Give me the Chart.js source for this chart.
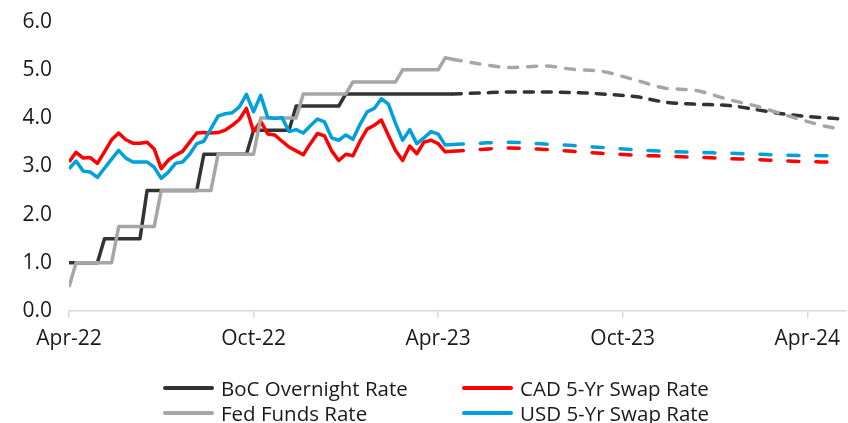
<!DOCTYPE html>
<html>
<head>
<meta charset="utf-8">
<script src="https://cdn.jsdelivr.net/npm/chart.js@4.4.1/dist/chart.umd.min.js"></script>
<style>
  body { margin: 0; background: #fff; }
  #wrap { position: relative; width: 848px; height: 423px; }
  #legend {
    position: absolute; left: 163px; top: 375px;
    display: grid; grid-template-columns: 299px 299px;
    font: 20.5px "Open Sans", sans-serif; color: #1a1a1a;
  }
  .item { display: flex; align-items: center; height: 25px; white-space: nowrap; }
  .swatch { width: 51px; height: 4px; border-radius: 2px; margin-right: 7px; }
</style>
</head>
<body>
<div id="wrap">
  <canvas id="myChart" width="848" height="423"></canvas>
  <div id="legend"></div>
</div>
<script>
// x is weeks since late Apr-22, ticks every 26 weeks
const tickWeeks = [0, 26, 52, 78, 104];
const tickLabels = ['Apr-22', 'Oct-22', 'Apr-23', 'Oct-23', 'Apr-24'];

// weekly history, weeks 0..54
const bocHist = [1.0, 1.0, 1.0, 1.0, 1.0,
  1.5, 1.5, 1.5, 1.5, 1.5, 1.5,
  2.5, 2.5, 2.5, 2.5, 2.5, 2.5, 2.5, 2.5,
  3.25, 3.25, 3.25, 3.25, 3.25, 3.25, 3.25,
  3.75, 3.75, 3.75, 3.75, 3.75, 3.75,
  4.25, 4.25, 4.25, 4.25, 4.25, 4.25, 4.25,
  4.5, 4.5, 4.5, 4.5, 4.5, 4.5, 4.5, 4.5, 4.5, 4.5, 4.5, 4.5, 4.5, 4.5, 4.5, 4.5];
const fedHist = [0.5,
  1.0, 1.0, 1.0, 1.0, 1.0, 1.0,
  1.75, 1.75, 1.75, 1.75, 1.75, 1.75,
  2.5, 2.5, 2.5, 2.5, 2.5, 2.5, 2.5, 2.5,
  3.25, 3.25, 3.25, 3.25, 3.25, 3.25,
  4.0, 4.0, 4.0, 4.0, 4.0, 4.0,
  4.5, 4.5, 4.5, 4.5, 4.5, 4.5, 4.5,
  4.75, 4.75, 4.75, 4.75, 4.75, 4.75, 4.75,
  5.0, 5.0, 5.0, 5.0, 5.0, 5.0,
  5.25, 5.22];
const cadHist = [3.09, 3.29, 3.17, 3.18, 3.06, 3.30, 3.55, 3.69, 3.55, 3.48,
  3.48, 3.50, 3.36, 2.95, 3.13, 3.23, 3.31, 3.50, 3.69, 3.70,
  3.69, 3.70, 3.75, 3.85, 3.97, 4.20, 3.72, 3.93, 3.67, 3.65,
  3.52, 3.40, 3.32, 3.24, 3.47, 3.68, 3.63, 3.32, 3.12, 3.25,
  3.22, 3.52, 3.77, 3.85, 3.96, 3.64, 3.33, 3.12, 3.42, 3.26,
  3.50, 3.54, 3.47, 3.30, 3.31];
const usdHist = [2.95, 3.11, 2.90, 2.88, 2.77, 2.96, 3.15, 3.33, 3.17, 3.09,
  3.09, 3.09, 2.98, 2.75, 2.88, 3.06, 3.09, 3.25, 3.47, 3.52,
  3.78, 4.04, 4.09, 4.11, 4.23, 4.49, 4.13, 4.47, 4.01, 3.99,
  4.01, 3.72, 3.76, 3.69, 3.84, 3.98, 3.92, 3.59, 3.54, 3.65,
  3.56, 3.87, 4.13, 4.20, 4.40, 4.29, 3.89, 3.54, 3.76, 3.47,
  3.59, 3.72, 3.67, 3.44, 3.45];

// monthly forecasts
const fcWeeks = [54, 58, 62, 67, 71, 75, 80, 84, 88, 93, 97, 101, 106, 109];
const bocFc = [4.50, 4.52, 4.54, 4.54, 4.53, 4.50, 4.44, 4.33, 4.29, 4.26, 4.17, 4.08, 4.01, 3.98];
const fedFc = [5.22, 5.12, 5.05, 5.08, 5.01, 4.97, 4.78, 4.62, 4.58, 4.38, 4.24, 4.06, 3.85, 3.76];
const cadFc = [3.31, 3.35, 3.38, 3.35, 3.31, 3.27, 3.23, 3.21, 3.19, 3.16, 3.14, 3.11, 3.09, 3.08];
const usdFc = [3.45, 3.48, 3.50, 3.46, 3.43, 3.39, 3.34, 3.31, 3.29, 3.27, 3.25, 3.23, 3.22, 3.21];

const legendNames = ['BoC Overnight Rate', 'CAD 5-Yr Swap Rate', 'Fed Funds Rate', 'USD 5-Yr Swap Rate'];
const COLORS = {
  boc: '#333333',
  cad: '#ff0000',
  fed: '#a6a6a6',
  usd: '#00a0dc'
};

function histPoints(vals) {
  return vals.map((v, i) => ({ x: i, y: v }));
}
function fcPoints(vals) {
  return vals.map((v, i) => ({ x: fcWeeks[i], y: v }));
}
function solid(label, color, vals) {
  return { label: label, data: histPoints(vals), borderColor: color, backgroundColor: color,
    borderJoinStyle: 'round', tension: 0 };
}
function dashed(label, color, vals, dash) {
  return { label: label, data: fcPoints(vals), borderColor: color, backgroundColor: color,
    borderDash: dash, borderCapStyle: 'round', tension: 0.4, cubicInterpolationMode: 'monotone',
    forecast: true };
}

// first dataset ends up on top
const datasets = [
  solid(legendNames[3], COLORS.usd, usdHist),
  dashed(legendNames[3], COLORS.usd, usdFc, [11, 17]),
  solid(legendNames[2], COLORS.fed, fedHist),
  dashed(legendNames[2], COLORS.fed, fedFc, [9, 10]),
  solid(legendNames[1], COLORS.cad, cadHist),
  dashed(legendNames[1], COLORS.cad, cadFc, [11, 17]),
  solid(legendNames[0], COLORS.boc, bocHist),
  dashed(legendNames[0], COLORS.boc, bocFc, [9, 9])
];

const tickFont = { family: 'Open Sans', size: 21 };

const config = {
  type: 'line',
  data: { datasets: datasets },
  options: {
    responsive: false,
    animation: false,
    layout: { padding: { top: 21, right: 0, bottom: 0, left: 0 } },
    elements: { point: { radius: 0 }, line: { borderWidth: 3.5 } },
    plugins: { legend: { display: false }, tooltip: { enabled: false } },
    scales: {
      x: {
        type: 'linear', min: 0, max: 109.4,
        afterBuildTicks: (s) => { s.ticks = tickWeeks.map(v => ({ value: v })); },
        afterFit: (s) => { s.height = 112; },
        ticks: {
          autoSkip: false, maxRotation: 0, padding: 8, color: '#1a1a1a', font: tickFont,
          callback: (v, i) => tickLabels[i]
        },
        grid: { drawOnChartArea: false, drawTicks: true, tickLength: 7, color: '#d9d9d9', lineWidth: 1.5 },
        border: { color: '#d9d9d9', width: 1.5 }
      },
      y: {
        min: 0, max: 6,
        afterFit: (s) => { s.width = 69; },
        ticks: { stepSize: 1, padding: 9, color: '#1a1a1a', font: tickFont,
          callback: (v) => v.toFixed(1) },
        grid: { display: false },
        border: { display: false }
      }
    }
  }
};

const myChart = new Chart(document.getElementById('myChart'), config);

// legend in the reference order, two columns
const legendEl = document.getElementById('legend');
legendNames.forEach(name => {
  const ds = myChart.data.datasets.find(d => d.label === name && !d.forecast);
  const item = document.createElement('div');
  item.className = 'item';
  item.innerHTML = '<span class="swatch" style="background:' + ds.borderColor + '"></span>' + name;
  legendEl.appendChild(item);
});
</script>
</body>
</html>
